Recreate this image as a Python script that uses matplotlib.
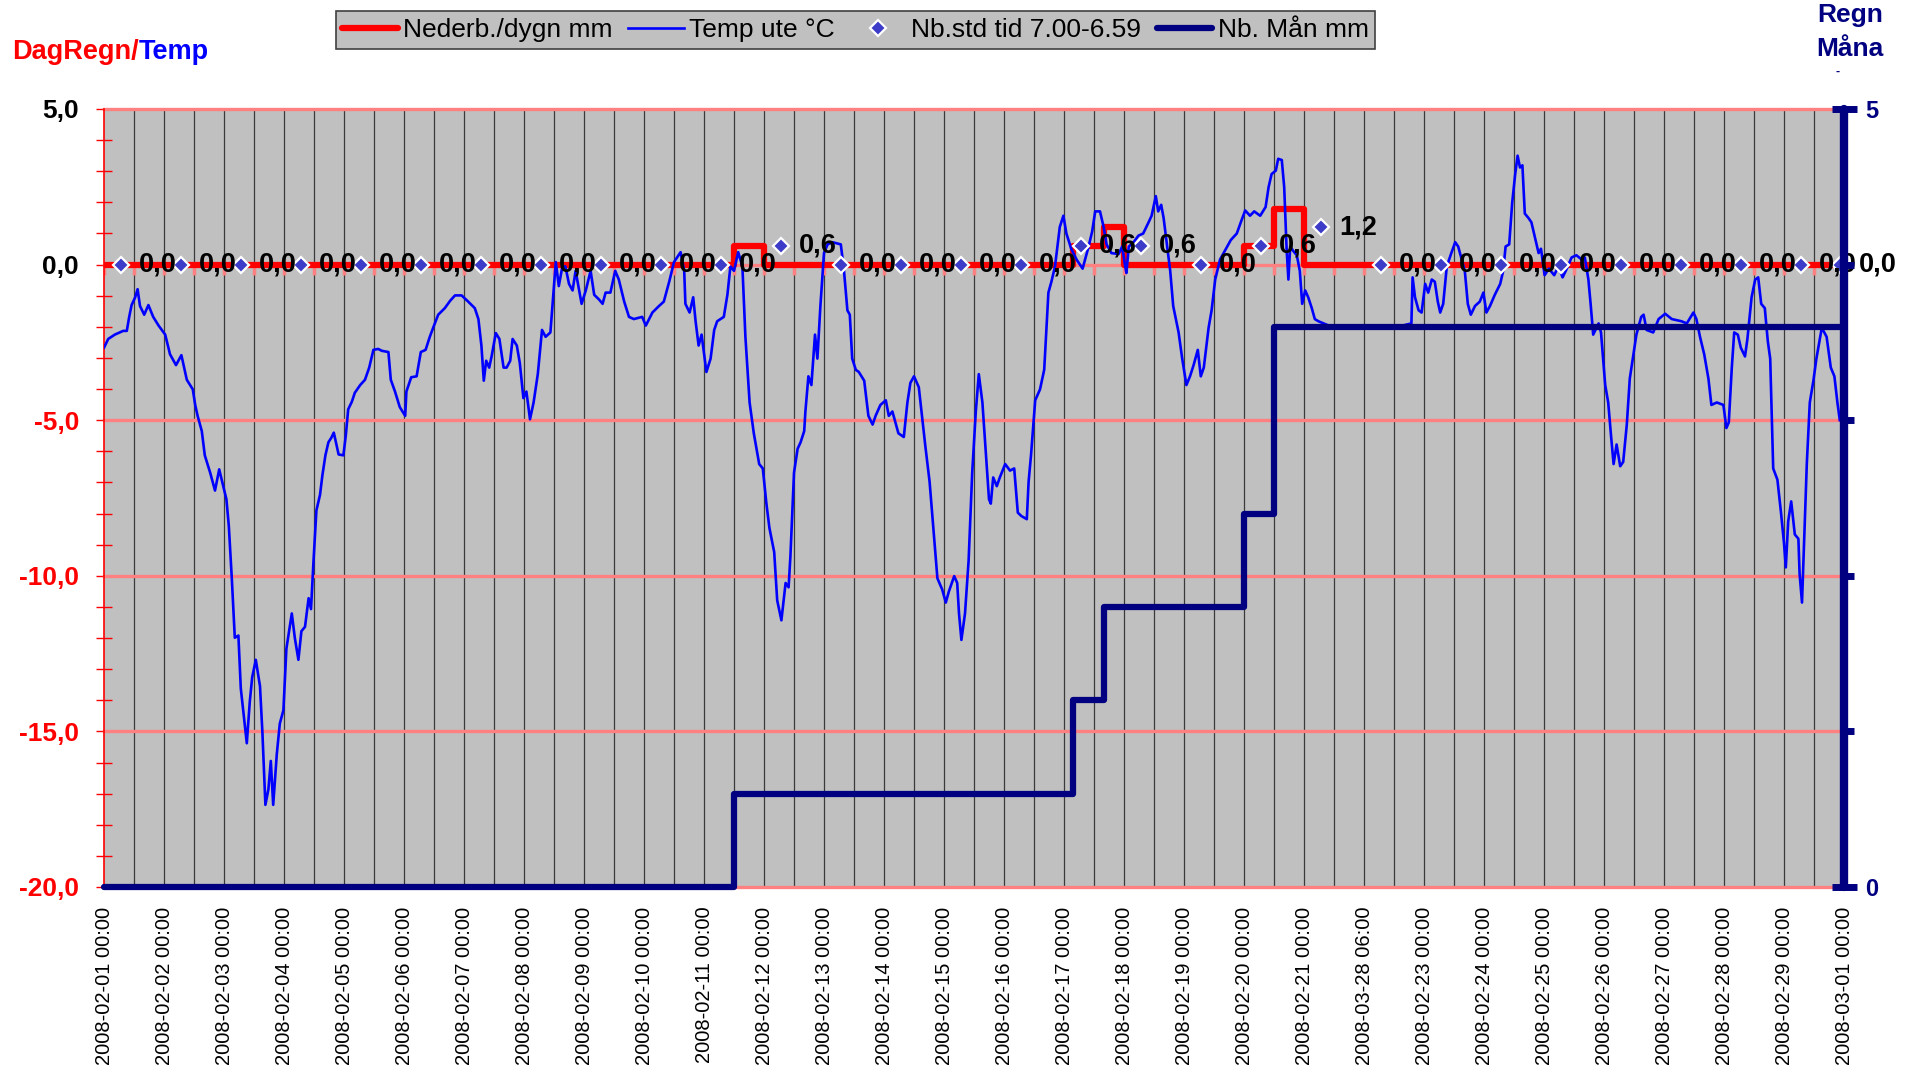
import matplotlib
matplotlib.use('Agg')
import matplotlib.pyplot as plt
import numpy as np

plt.rcParams['font.family'] = ['Liberation Sans', 'DejaVu Sans']

# x = dagar från 2008-02-01 00:00
tick_labels = [
    '2008-02-01 00:00', '2008-02-02 00:00', '2008-02-03 00:00', '2008-02-04 00:00',
    '2008-02-05 00:00', '2008-02-06 00:00', '2008-02-07 00:00', '2008-02-08 00:00',
    '2008-02-09 00:00', '2008-02-10 00:00', '2008-02-11 00:00', '2008-02-12 00:00',
    '2008-02-13 00:00', '2008-02-14 00:00', '2008-02-15 00:00', '2008-02-16 00:00',
    '2008-02-17 00:00', '2008-02-18 00:00', '2008-02-19 00:00', '2008-02-20 00:00',
    '2008-02-21 00:00', '2008-03-28 06:00', '2008-02-23 00:00', '2008-02-24 00:00',
    '2008-02-25 00:00', '2008-02-26 00:00', '2008-02-27 00:00', '2008-02-28 00:00',
    '2008-02-29 00:00', '2008-03-01 00:00',
]

# temperatur ute (avläst ur kurvan)
temp_day = [
    0.00, 0.07, 0.18, 0.32, 0.38, 0.42, 0.46, 0.52, 0.56, 0.60, 0.67, 0.74, 0.82, 0.91,
    1.02, 1.10, 1.20, 1.29, 1.38, 1.48, 1.52, 1.56, 1.63, 1.68, 1.77, 1.85, 1.92, 1.97,
    2.04, 2.08, 2.13, 2.18, 2.24, 2.28, 2.38, 2.43, 2.47, 2.53, 2.60, 2.64, 2.69, 2.74,
    2.78, 2.82, 2.88, 2.93, 2.99, 3.04, 3.13, 3.18, 3.24, 3.29, 3.35, 3.41, 3.45, 3.49,
    3.54, 3.60, 3.64, 3.69, 3.74, 3.79, 3.83, 3.91, 3.99, 4.03, 4.07, 4.13, 4.18, 4.27,
    4.35, 4.42, 4.49, 4.57, 4.63, 4.74, 4.78, 4.85, 4.93, 5.02, 5.04, 5.12, 5.21, 5.28,
    5.36, 5.43, 5.49, 5.57, 5.68, 5.77, 5.85, 5.96, 6.07, 6.18, 6.24, 6.29, 6.33, 6.37,
    6.42, 6.46, 6.53, 6.59, 6.66, 6.71, 6.77, 6.81, 6.88, 6.93, 6.99, 7.04, 7.10, 7.16,
    7.23, 7.30, 7.36, 7.44, 7.48, 7.53, 7.58, 7.64, 7.69, 7.75, 7.81, 7.86, 7.92, 7.96,
    8.03, 8.11, 8.17, 8.25, 8.31, 8.36, 8.44, 8.52, 8.58, 8.67, 8.75, 8.83, 8.97, 9.03,
    9.14, 9.25, 9.33, 9.42, 9.50, 9.61, 9.67, 9.69, 9.76, 9.82, 9.86, 9.91, 9.96, 10.04,
    10.11, 10.17, 10.22, 10.33, 10.39, 10.44, 10.50, 10.57, 10.64, 10.69, 10.76, 10.83,
    10.92, 10.98, 11.04, 11.09, 11.17, 11.22, 11.29, 11.36, 11.41, 11.44, 11.50, 11.56,
    11.61, 11.67, 11.69, 11.74, 11.79, 11.85, 11.89, 11.94, 12.00, 12.06, 12.14, 12.28,
    12.33, 12.39, 12.43, 12.47, 12.53, 12.58, 12.67, 12.74, 12.81, 12.86, 12.94, 13.03,
    13.08, 13.14, 13.24, 13.33, 13.39, 13.44, 13.50, 13.58, 13.69, 13.76, 13.83, 13.89,
    13.97, 14.03, 14.08, 14.17, 14.22, 14.25, 14.29, 14.35, 14.41, 14.47, 14.53, 14.58,
    14.64, 14.69, 14.75, 14.78, 14.82, 14.88, 14.93, 15.02, 15.10, 15.17, 15.23, 15.29,
    15.38, 15.41, 15.45, 15.52, 15.60, 15.67, 15.74, 15.79, 15.85, 15.93, 15.99, 16.04,
    16.12, 16.21, 16.31, 16.41, 16.47, 16.52, 16.60, 16.66, 16.71, 16.79, 16.91, 16.97,
    17.02, 17.04, 17.08, 17.16, 17.24, 17.32, 17.41, 17.46, 17.53, 17.57, 17.62, 17.66,
    17.71, 17.77, 17.82, 17.91, 17.97, 18.04, 18.10, 18.16, 18.23, 18.28, 18.33, 18.41,
    18.46, 18.52, 18.60, 18.68, 18.78, 18.88, 18.96, 19.02, 19.10, 19.17, 19.27, 19.36,
    19.41, 19.46, 19.53, 19.57, 19.63, 19.67, 19.71, 19.74, 19.77, 19.82, 19.88, 19.93,
    19.97, 20.02, 20.07, 20.13, 20.18, 20.24, 20.40, 20.70, 21.00, 21.30, 21.60, 21.79,
    21.81, 21.85, 21.91, 21.96, 22.02, 22.07, 22.13, 22.18, 22.23, 22.27, 22.32, 22.38,
    22.45, 22.52, 22.57, 22.63, 22.68, 22.73, 22.78, 22.85, 22.93, 22.99, 23.04, 23.10,
    23.18, 23.27, 23.32, 23.36, 23.42, 23.47, 23.52, 23.56, 23.60, 23.64, 23.68, 23.74,
    23.79, 23.85, 23.91, 23.95, 24.01, 24.08, 24.17, 24.24, 24.31, 24.38, 24.46, 24.54,
    24.63, 24.68, 24.74, 24.78, 24.82, 24.91, 24.95, 25.02, 25.07, 25.12, 25.16, 25.21,
    25.27, 25.32, 25.38, 25.43, 25.49, 25.54, 25.62, 25.66, 25.71, 25.82, 25.91, 26.02,
    26.13, 26.29, 26.38, 26.49, 26.54, 26.60, 26.67, 26.74, 26.79, 26.88, 26.99, 27.04,
    27.08, 27.13, 27.17, 27.23, 27.28, 27.35, 27.39, 27.46, 27.52, 27.57, 27.62, 27.68,
    27.73, 27.77, 27.82, 27.89, 27.95, 28.00, 28.03, 28.07, 28.12, 28.18, 28.24, 28.26,
    28.30, 28.34, 28.38, 28.43, 28.49, 28.54, 28.63, 28.71, 28.78, 28.84, 28.89, 28.93,
]
temp_val = [
    -2.67, -2.39, -2.25, -2.13, -2.13, -1.68, -1.30, -1.05, -0.79, -1.33, -1.61, -1.30, -1.68, -1.96,
    -2.25, -2.88, -3.23, -2.91, -3.70, -4.01, -4.51, -4.86, -5.35, -6.13, -6.69, -7.26, -6.58, -6.98,
    -7.54, -8.39, -10.08, -11.99, -11.92, -13.62, -15.38, -14.04, -13.26, -12.70, -13.55, -15.03, -17.36, -16.86,
    -15.95, -17.36, -15.73, -14.75, -14.32, -12.34, -11.21, -11.99, -12.70, -11.78, -11.64, -10.72, -11.07, -9.59,
    -7.90, -7.40, -6.77, -6.13, -5.71, -5.56, -5.40, -6.10, -6.13, -5.49, -4.65, -4.41, -4.12, -3.87,
    -3.70, -3.31, -2.74, -2.71, -2.77, -2.81, -3.70, -4.08, -4.58, -4.86, -4.08, -3.62, -3.59, -2.81,
    -2.74, -2.32, -2.01, -1.61, -1.40, -1.16, -0.99, -0.99, -1.19, -1.40, -1.75, -2.60, -3.73, -3.09,
    -3.31, -2.95, -2.20, -2.39, -3.31, -3.31, -3.09, -2.39, -2.60, -3.16, -4.29, -4.08, -4.97, -4.43,
    -3.52, -2.10, -2.32, -2.18, -1.19, 0.08, -0.69, -0.06, -0.06, -0.62, -0.83, -0.20, -0.83, -1.26,
    -0.83, -0.20, -0.97, -1.12, -1.26, -0.90, -0.90, -0.20, -0.48, -1.19, -1.68, -1.75, -1.68, -1.96,
    -1.54, -1.33, -1.19, -0.55, 0.08, 0.40, -0.20, -1.26, -1.54, -1.05, -1.82, -2.60, -2.25, -3.45,
    -3.02, -2.10, -1.82, -1.68, -0.97, -0.06, -0.20, 0.40, -0.06, -2.32, -4.43, -5.42,
    -6.41, -6.55, -7.68, -8.46, -9.24, -10.79, -11.43, -10.23, -10.37, -9.38, -6.69, -5.92,
    -5.71, -5.35, -4.72, -3.59, -3.87, -2.25, -3.02, -1.33, 0.37, 0.65, 0.72, 0.65,
    -0.13, -1.47, -1.61, -3.02, -3.38, -3.45, -3.73, -4.86, -5.14, -4.86, -4.51, -4.36,
    -4.86, -4.72, -5.42, -5.54, -4.43, -3.80, -3.59, -3.94, -5.85, -6.98, -8.67, -10.08,
    -10.44, -10.86, -10.51, -10.01, -10.23, -11.21, -12.06, -11.21, -9.52, -6.69, -4.72, -3.52,
    -4.43, -5.85, -7.54, -7.68, -6.84, -7.12, -6.84, -6.41, -6.62, -6.55, -7.97, -8.08,
    -8.18, -6.98, -6.13, -4.36, -4.01, -3.38, -0.90, -0.55, -0.06, 1.21, 1.57, 1.00,
    0.51, 0.16, -0.13, 0.58, 1.07, 1.71, 1.71, 1.21, 0.65, 0.37, 0.34, 0.58,
    -0.06, -0.27, 0.58, 0.72, 0.93, 1.00, 1.36, 1.57, 2.20, 1.71, 1.92, 1.50,
    0.72, -0.20, -1.33, -2.18, -3.02, -3.87, -3.59, -3.23, -2.74, -3.59, -3.31, -2.03,
    -1.47, -0.48, 0.16, 0.44, 0.79, 1.00, 1.43, 1.74, 1.57, 1.71, 1.57, 1.85,
    2.49, 2.91, 3.02, 3.40, 3.36, 2.49, 0.51, -0.48, 0.58, 0.44, 0.30, -0.20,
    -1.26, -0.83, -1.05, -1.40, -1.75, -1.82, -1.95, -2.00, -1.95, -2.02, -1.98, -1.89,
    -0.41, -1.05, -1.47, -1.54, -0.62, -0.90, -0.48, -0.55, -1.19, -1.54, -1.26, -0.06,
    0.34, 0.72, 0.58, 0.16, -0.20, -1.26, -1.61, -1.33, -1.19, -0.90, -1.54, -1.33,
    -0.97, -0.62, -0.20, 0.58, 0.65, 1.99, 2.91, 3.50, 3.12, 3.19, 1.64, 1.50,
    1.36, 0.86, 0.37, 0.51, -0.34, -0.13, -0.34, -0.06, -0.41, -0.13, 0.23, 0.30,
    0.16, 0.23, -0.48, -1.33, -2.25, -1.89, -2.18, -3.87, -4.43, -5.56, -6.41, -5.78,
    -6.48, -6.34, -5.14, -3.66, -2.88, -2.25, -1.68, -1.61, -2.10, -2.18, -1.75, -1.58,
    -1.75, -1.82, -1.89, -1.54, -1.75, -2.32, -2.88, -3.66, -4.51, -4.43, -4.51, -5.25,
    -5.07, -3.31, -2.18, -2.25, -2.67, -2.95, -2.39, -1.05, -0.48, -0.41, -1.26, -1.40,
    -2.46, -3.02, -6.55, -6.91, -7.97, -8.95, -9.73, -8.25, -7.61, -8.67, -8.81, -9.94,
    -10.86, -8.67, -6.41, -4.43, -3.73, -3.02, -2.03, -2.32, -3.31, -3.59, -4.43, -5.00,
]

# nederbörd per dygn (mm), trappsteg
rain_day = [0, 10.5, 11.0, 16.15, 16.67, 17.0, 19.0, 19.5, 20.0, 29]
rain_val = [0, 0.6, 0.0, 0.6, 1.2, 0.0, 0.6, 1.8, 0.0, 0.0]

# ackumulerad nederbörd för månaden (mm), höger axel
month_day = [0, 10.5, 16.15, 16.67, 19.0, 19.5, 29]
month_val = [0, 0.6, 1.2, 1.8, 2.4, 3.6, 3.6]

# mätning kl 7.00 varje dag
obs_day = [0.28, 1.28, 2.28, 3.28, 4.28, 5.28, 6.28, 7.28, 8.28, 9.28, 10.28, 11.28,
           12.28, 13.28, 14.28, 15.28, 16.28, 17.28, 18.28, 19.28, 20.28, 21.28, 22.28,
           23.28, 24.28, 25.28, 26.28, 27.28, 28.28, 28.94]
obs_val = [0, 0, 0, 0, 0, 0, 0, 0, 0, 0, 0, 0.6, 0, 0, 0, 0, 0.6, 0.6, 0, 0.6, 1.2,
           0, 0, 0, 0, 0, 0, 0, 0, 0]

RED = '#FF0000'
BLUE = '#0000FF'
NAVY = '#000080'
PINK = '#FF8080'
BG = '#C0C0C0'

fig = plt.figure(figsize=(19.21, 10.75), dpi=100)
ax = fig.add_axes([104 / 1921, 1 - 887 / 1075, 1740 / 1921, 778 / 1075])
ax.set_facecolor(BG)
ax.set_xlim(0, 29)
ax.set_ylim(-20, 5)

# stödlinjer
ax.vlines(np.arange(0.5, 29, 0.5), -20, 5, color='#3a3a3a', lw=0.9, zorder=1)
for y in range(-20, 6, 5):
    ax.axhline(y, color=PINK, lw=2.4, zorder=2, clip_on=False)
ax.vlines(np.arange(0, 29.01, 0.5), -0.35, 0, color=PINK, lw=2.5, zorder=2)

l_rain, = ax.plot(rain_day, rain_val, color=RED, lw=4.5, drawstyle='steps-post',
                  solid_joinstyle='round', solid_capstyle='round', zorder=3)
l_temp, = ax.plot(temp_day, temp_val, color=BLUE, lw=1.9, zorder=4)
l_obs, = ax.plot(obs_day, obs_val, ls='none', marker='D', ms=8, mfc='#3C3CC8',
                 mec='white', mew=1.6, zorder=5, clip_on=False)
for x, v in zip(obs_day, obs_val):
    ax.annotate(f'{v:.1f}'.replace('.', ','), (x, v), xytext=(13, 0),
                textcoords='offset points', va='center', ha='left', fontsize=19.5,
                fontweight='bold', zorder=6, annotation_clip=False)

# vänster axel
ax.set_yticks(np.arange(-20, 6, 5))
ax.set_yticklabels([f'{v:.1f}'.replace('.', ',') for v in np.arange(-20, 6, 5)])
ax.set_yticks(np.arange(-20, 6, 1), minor=True)
ax.tick_params(axis='y', which='both', direction='inout', length=12, width=1, color=RED)
ax.tick_params(axis='y', which='major', labelsize=19, pad=12)
for t, v in zip(ax.get_yticklabels(), np.arange(-20, 6, 5)):
    t.set_fontweight('bold')
    t.set_color(RED if v < 0 else 'black')

ax.set_xticks(np.arange(len(tick_labels)))
ax.set_xticklabels(tick_labels, rotation=90, fontsize=14.5)
ax.tick_params(axis='x', length=0, pad=14)

for s in ['top', 'right', 'bottom']:
    ax.spines[s].set_visible(False)
ax.spines['left'].set_color(RED)
ax.spines['left'].set_linewidth(1.2)

# höger axel
ax2 = ax.twinx()
ax2.set_ylim(0, 5)
l_month, = ax2.plot(month_day, month_val, color=NAVY, lw=4.5, drawstyle='steps-post',
                    solid_joinstyle='round', solid_capstyle='round', zorder=3, clip_on=False)
for s in ['top', 'left', 'bottom']:
    ax2.spines[s].set_visible(False)
ax2.spines['right'].set_color(NAVY)
ax2.spines['right'].set_linewidth(6)
ax2.spines['right'].set_capstyle('round')
ax2.set_yticks([0, 5])
ax2.set_yticklabels(['0', '5'])
ax2.set_yticks([1, 2, 3, 4], minor=True)
ax2.tick_params(axis='y', which='major', direction='inout', length=18, width=5,
                color=NAVY, labelcolor=NAVY, labelsize=17, pad=6)
ax2.tick_params(axis='y', which='minor', direction='out', length=7, width=5, color=NAVY)
for t in ax2.get_yticklabels():
    t.set_fontweight('bold')

# rubriker
t1 = fig.text(12 / 1921, 1 - 52 / 1075, 'DagRegn/', color=RED, fontsize=19.5,
              fontweight='bold', ha='left', va='center')
ax.annotate('Temp', xy=(1, 0), xycoords=t1, va='bottom', ha='left', color=BLUE,
            fontsize=19.5, fontweight='bold', annotation_clip=False)
fig.text(1850 / 1921, 1 - 15 / 1075, 'Regn', color=NAVY, fontsize=19,
         fontweight='bold', ha='center', va='center')
fig.text(1850 / 1921, 1 - 49 / 1075, 'Måna', color=NAVY, fontsize=19,
         fontweight='bold', ha='center', va='center')
fig.text(1838 / 1921, 1 - 72 / 1075, '-', color=NAVY, fontsize=9,
         fontweight='bold', ha='center', va='center')

leg = fig.legend([l_rain, l_temp, l_obs, l_month],
                 ['Nederb./dygn mm', 'Temp ute °C', 'Nb.std tid 7.00-6.59', 'Nb. Mån mm'],
                 loc='center', bbox_to_anchor=(855.5 / 1921, 1 - 30 / 1075), ncol=4,
                 fontsize=19, frameon=True, fancybox=False, facecolor=BG,
                 edgecolor='#404040', framealpha=1, handlelength=2.1, handletextpad=0.2,
                 columnspacing=0.6, borderpad=0.25, borderaxespad=0)
leg.get_frame().set_linewidth(1.2)

fig.savefig('out.png', dpi=100)
